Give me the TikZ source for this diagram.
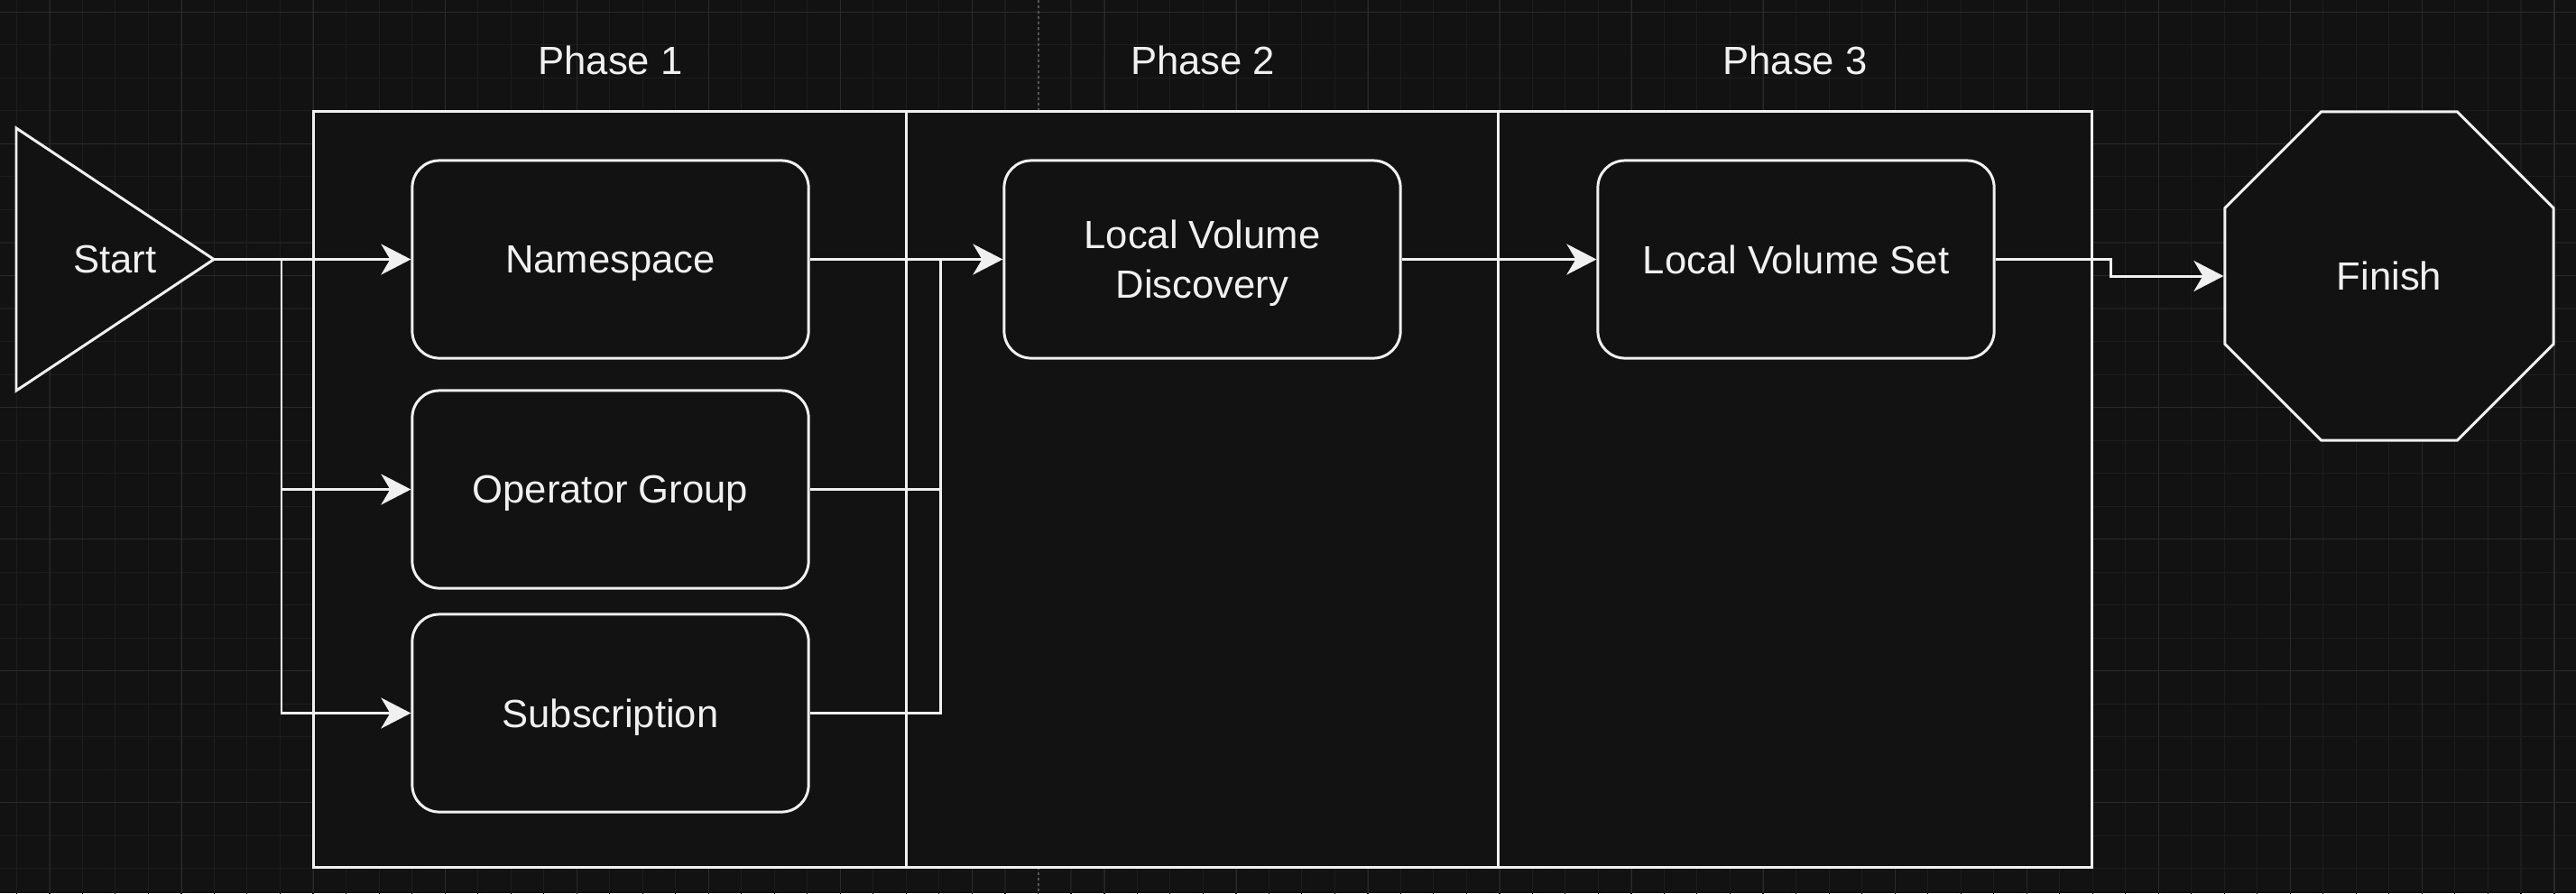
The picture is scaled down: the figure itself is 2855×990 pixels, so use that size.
\documentclass[tikz,border=0pt]{standalone}
\usepackage{fontspec}
\setmainfont{Liberation Sans}
\usetikzlibrary{arrows.meta,shapes.geometric}
\definecolor{canvas}{HTML}{121212}
\definecolor{chalk}{HTML}{F0F0F0}
\definecolor{fine grid}{HTML}{1D1D1D}
\definecolor{bold grid}{HTML}{2A2A2A}
\def\txt{\fontsize{12.4}{15.6}\selectfont}

\begin{document}
\begin{tikzpicture}[x=0.01cm,y=-0.01cm,line width=0.85pt,
  >={Stealth[length=0.33cm,width=0.34cm,inset=0.1cm]},
  every node/.style={text=chalk,font=\txt},
  box node/.style={draw=chalk,fill=canvas,rounded corners=0.3cm,text depth=0pt,
    minimum width=4.39cm,minimum height=2.19cm,align=center},
  phase node/.style={draw=chalk,fill=canvas,minimum width=6.57cm,minimum height=8.37cm},
  flow/.style={->,draw=chalk},
  link/.style={draw=chalk}]

  % canvas and grid
  \useasboundingbox (0,0) rectangle (2855,990);
  \fill[canvas] (0,0) rectangle (2855,990);
  \begin{scope}
    \clip (0,0) rectangle (2855,990);
    \draw[fine grid,line width=0.3pt,xshift=0.183cm,yshift=-0.133cm,step=0.365cm]
      (-1cm,1cm) grid (30cm,-11cm);
    \draw[bold grid,line width=0.3pt,xshift=0.553cm,yshift=-0.133cm,step=1.46cm]
      (-2cm,2cm) grid (30cm,-11cm);
    \draw[bold grid!80!white,line width=0.4pt,dash pattern=on 0.03cm off 0.03cm]
      (1151,0) -- (1151,990);
  \end{scope}

  % phases
  \node[phase node] (p1) at (676.5,542.5) {};
  \node[phase node] (p2) at (1333,542.5) {};
  \node[phase node] (p3) at (1989.5,542.5) {};
  \node (p1 label) at (676.5,67) {Phase 1};
  \node (p2 label) at (1333,67) {Phase 2};
  \node (p3 label) at (1989.5,67) {Phase 3};

  % start and finish
  \draw[draw=chalk,fill=canvas] (18,142) -- (237,287.5) -- (18,433) -- cycle;
  \node (start) at (127.5,287.5) {Start};
  \coordinate (start tip) at (237,287.5);
  \node[draw=chalk,fill=canvas,regular polygon,regular polygon sides=8,
    minimum size=3.94cm,inner sep=0pt] (finish) at (2648,306) {Finish};

  % steps
  \node[box node] (ns) at (676.5,287.5) {Namespace};
  \node[box node] (og) at (676.5,542.5) {Operator Group};
  \node[box node] (sub) at (676.5,790.5) {Subscription};
  \node[box node] (lvd) at (1332.5,287.5) {Local Volume\\Discovery};
  \node[box node] (lvs) at (1990.5,287.5) {Local Volume Set};

  \coordinate (split) at (312,287.5);
  \coordinate (join) at (1042,287.5);

  \draw[flow] (start tip) -- (ns);
  \draw[flow] (split) |- (og.west);
  \draw[flow] (split) |- (sub.west);
  \draw[flow] (ns) -- (lvd);
  \draw[link] (og.east) -| (join);
  \draw[link] (sub.east) -| (join);
  \draw[flow] (lvd) -- (lvs);
  \draw[flow] (lvs.east) -- ++(128,0) |- (finish.west);

\end{tikzpicture}
\end{document}
